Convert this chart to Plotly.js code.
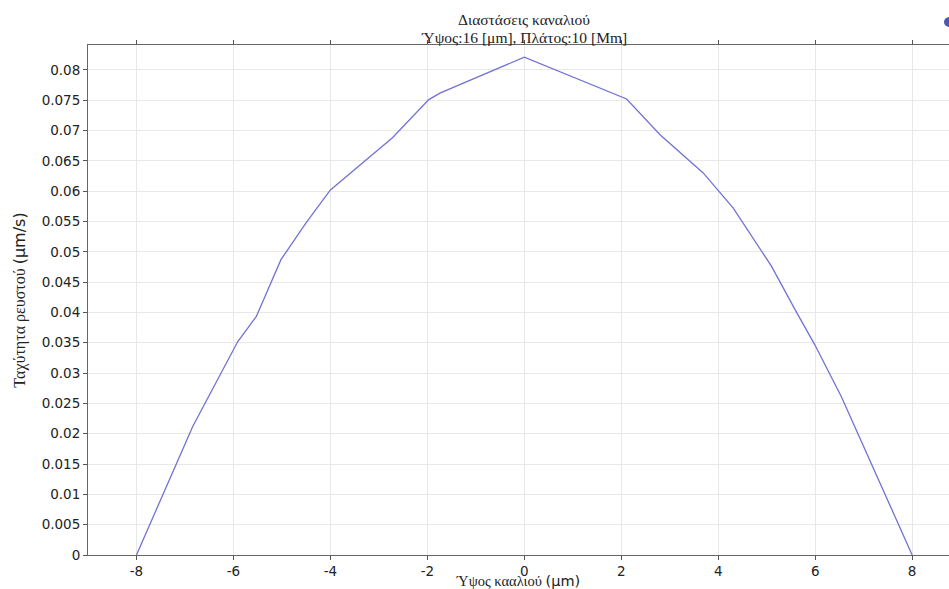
<!DOCTYPE html>
<html>
<head>
<meta charset="utf-8">
<script src="https://cdn.plot.ly/plotly-3.0.1.min.js"></script>
<style>html,body{margin:0;padding:0;background:#fff;}#chart{width:949px;height:589px;}</style>
</head>
<body>
<div id="chart"></div>
<script>
const heightUm = [-8, -6.84, -5.91, -5.53, -5.02, -4.51, -4.0, -2.72, -1.97, -1.73, 0, 2.11, 2.80, 3.69, 4.31, 5.10, 5.61, 5.99, 6.54, 8];
const velocity = [0, 0.0212, 0.0352, 0.0393, 0.0487, 0.0547, 0.0602, 0.0688, 0.0751, 0.0762, 0.0821, 0.0752, 0.0693, 0.0630, 0.0572, 0.0476, 0.0401, 0.0347, 0.0261, 0];
const xTicks = [-8, -6, -4, -2, 0, 2, 4, 6, 8];
const yTicks = [0, 0.005, 0.01, 0.015, 0.02, 0.025, 0.03, 0.035, 0.04, 0.045, 0.05, 0.055, 0.06, 0.065, 0.07, 0.075, 0.08];
const yTickText = ['0', '0.005', '0.01', '0.015', '0.02', '0.025', '0.03', '0.035', '0.04', '0.045', '0.05', '0.055', '0.06', '0.065', '0.07', '0.075', '0.08'];
const titleLines = ['Διαστάσεις καναλιού', 'Ύψος:16 [μm], Πλάτος:10 [Mm]'];

const serif = '"Liberation Serif", "DejaVu Serif", serif';
const sans = '"DejaVu Sans", sans-serif';

const trace = {
  x: heightUm, y: velocity, type: 'scatter', mode: 'lines',
  line: {color: '#7272d4', width: 1.3}, showlegend: false, hoverinfo: 'skip'
};

const PH = 510; // plot height in px (589-45-34)
const layout = {
  width: 949, height: 589,
  margin: {l: 88, r: 0, t: 45, b: 34},
  paper_bgcolor: '#fff', plot_bgcolor: '#fff',
  xaxis: {
    range: [-9, 8.76], tickvals: xTicks, ticktext: xTicks.map(String),
    showgrid: true, gridcolor: '#e8e8e8', gridwidth: 1,
    zeroline: false, showline: true, linecolor: '#666', linewidth: 1, mirror: 'ticks',
    ticks: 'outside', ticklen: 4, tickcolor: '#555',
    tickfont: {family: sans, size: 13.5, color: '#222'},
    title: {text: 'Ύψος κααλιού <span style="font-family:DejaVu Sans">(μm)</span>', font: {family: serif, size: 14.5, color: '#222'}, standoff: 1}
  },
  yaxis: {
    range: [0, 0.0841], tickvals: yTicks, ticktext: yTickText,
    showgrid: true, gridcolor: '#e8e8e8', gridwidth: 1,
    zeroline: false, showline: true, linecolor: '#666', linewidth: 1,
    ticks: 'outside', ticklen: 4, tickcolor: '#555',
    tickfont: {family: sans, size: 13.5, color: '#222'},
    title: {text: 'Ταχύτητα ρευστού <span style="font-family:DejaVu Sans">(μm/s)</span>', font: {family: serif, size: 16, color: '#222'}, standoff: 12}
  },
  annotations: [
    {text: titleLines[0], xref: 'x', yref: 'paper', x: 0, y: 1 + (45 - 20) / PH, xanchor: 'center', yanchor: 'middle', showarrow: false, font: {family: serif, size: 15.5, color: '#222'}},
    {text: titleLines[1], xref: 'x', yref: 'paper', x: 0, y: 1 + (45 - 37) / PH, xanchor: 'center', yanchor: 'middle', showarrow: false, font: {family: serif, size: 15.5, color: '#222'}}
  ],
  shapes: [{
    type: 'circle', xref: 'paper', yref: 'paper',
    x0: 1 - 5/861, x1: 1 + 6/861, y0: 1 + 18/PH, y1: 1 + 28/PH,
    fillcolor: '#4a56b8', line: {width: 0}
  }]
};

Plotly.newPlot('chart', [trace], layout, {displayModeBar: false, staticPlot: true});
</script>
</body>
</html>
